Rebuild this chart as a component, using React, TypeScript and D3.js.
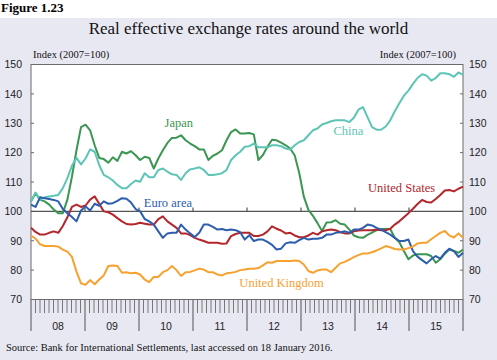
import React from "react";
import * as d3 from "d3";

const years = ["08", "09", "10", "11", "12", "13", "14", "15"];
const yTicks = [70, 80, 90, 100, 110, 120, 130, 140, 150];

const japan = [
  103.4, 106.2, 103.9, 103.4, 102.3, 100.6, 99.4, 99.4, 104, 111.8, 120.8, 128.7,
  129.5, 127.6, 122.5, 118.2, 117.8, 116.6, 118.4, 117.2, 120.3, 119.7, 120.5, 119.1,
  117.5, 118.6, 118.2, 114.6, 118, 120.8, 123.3, 125, 125.1, 125.9, 124.2, 123.1,
  122.2, 121.1, 121.1, 117.5, 118.9, 119.7, 120.8, 124.2, 127, 127.9, 126.5, 126.5,
  126.7, 126.2, 117.5, 119.2, 122, 124.4, 124.2, 123.4, 122.5, 121.4, 119, 113,
  105, 100.5, 98.5, 96, 93.3, 96.2, 96.3, 97, 95.8, 95.5, 93.8, 91.8,
  91.2, 91, 92, 92.8, 93.6, 94, 94, 94, 91, 89.5, 86.5, 83.7,
  85, 85.4, 85.4, 85.4, 84.8, 82.5, 83.7, 85.6, 87, 86.5, 85.9, 87,
];

const china = [
  103.4, 106.4, 103.9, 104.8, 105.1, 105.3, 105.6, 107.9, 111.3, 115.5, 118.2, 116,
  118, 121.1, 120.3, 115.8, 112.4, 111.6, 110.5, 109, 107.9, 107.9, 109.3, 110.5,
  110.1, 113, 111.6, 111.6, 114.1, 114.6, 113.5, 112.6, 112.4, 110.7, 113, 114.3,
  114.6, 115, 114.1, 112.4, 112.4, 112.6, 113, 114.1, 117.5, 119.1, 120.3, 122,
  122.2, 123.1, 121.8, 121.8, 121.8, 122.5, 122.5, 122.2, 121.4, 121.1, 122.5, 123.6,
  124.2, 125.9, 127.6, 128.2, 129.6, 130.1, 130.7, 131, 131, 131, 130.4, 131.9,
  134.6, 135.5, 132.1, 128.7, 127.8, 127.8, 128.9, 131, 134.1, 136.8, 139.4, 141.1,
  143.4, 145.4, 146.7, 146.2, 144.5, 145.4, 147, 147, 146.7, 145.8, 147.3, 146.5,
];

const euroArea = [
  102.3, 101.5, 104.8, 104.5, 104.2, 103.9, 103.4, 100.8, 99.4, 98.1, 96.6, 100.3,
  101.7, 100.3, 102.6, 101.9, 103.4, 102.6, 102.8, 103.6, 104.5, 104.3, 103, 100.8,
  100, 97.4, 96.6, 95.5, 93.2, 91, 92.5, 92.7, 92.7, 95.5, 93.8, 92.5,
  91.3, 92.7, 95.5, 95.5, 94.7, 93.8, 94, 93.6, 93.8, 93.6, 92.9, 90.4,
  91.9, 89.9, 90.4, 90.4, 89.6, 88.6, 87, 87.3, 89.1, 89.5, 89.3, 90.2,
  91, 90.4, 90.7, 90.7, 91, 92.1, 92.1, 92.7, 92.9, 93.2, 92.7, 93.8,
  93.8, 94.4, 95.5, 95.2, 94.4, 93.8, 92.9, 92.1, 91, 89.9, 89.9, 90.4,
  86.5, 84.6, 83.4, 82.3, 83.7, 84.8, 83.9, 85.9, 87.3, 86.5, 84.5, 85.9,
];

const unitedStates = [
  94.4, 93, 92.1, 92.1, 92.7, 93.2, 92.7, 95, 98, 101.5, 102.3, 101.5,
  102, 104, 105.1, 102.6, 100, 99.7, 98.9, 97.7, 96.6, 95.7, 95.5, 95.7,
  96.1, 95.8, 95.5, 95.5, 97.4, 98.3, 96.6, 95.5, 94.4, 92.5, 92.5, 91.9,
  91, 90.4, 89.9, 89.3, 89.3, 89.3, 89, 89.1, 91.6, 92.3, 92.7, 92.7,
  92.7, 91.6, 91.6, 92.1, 93.2, 94.9, 94.1, 93.5, 92.5, 92.7, 91.8, 91.2,
  91.2, 91.8, 92.7, 92.1, 93.2, 93.6, 93.8, 93.6, 92.9, 92.5, 92.5, 93.2,
  93.5, 93.6, 93.6, 93.6, 93.8, 93.6, 93.6, 94.1, 95.5, 96.6, 98, 99.4,
  100.9, 102.5, 103.9, 103.2, 103, 104.2, 105.6, 107.1, 107.3, 106.8, 107.7, 108.4,
];

const unitedKingdom = [
  91.8, 90.7, 88.8, 88.2, 88.2, 88.2, 88, 87, 86.3, 84.5, 79.5, 75.5,
  75, 76.6, 75.2, 76.8, 78.2, 81.4, 81.6, 81.4, 79.1, 79.3, 78.9, 79.1,
  78.5, 76.8, 75.9, 77.7, 77.7, 79.3, 80, 81.4, 80, 78, 79.3, 79.4,
  79.9, 80.5, 80.2, 79.3, 79.3, 78.5, 78.2, 78.9, 79.1, 79.4, 80, 80.2,
  80.5, 80.5, 80.7, 81.6, 82.7, 82.5, 83.1, 83.1, 83.1, 83.1, 83.3, 83.1,
  81.9, 79.7, 79.1, 79.9, 80.2, 80.2, 79.3, 80.8, 82.3, 82.8, 83.6, 84.4,
  85.1, 85.7, 85.7, 86.1, 86.7, 87.4, 88.2, 87.8, 87.2, 87, 87, 87.5,
  88, 89.1, 89.3, 89.3, 90.5, 91.6, 92.7, 93.3, 91.8, 91.1, 92.5, 91,
];

const seriesNames = ["Japan", "China", "United States", "Euro area", "United Kingdom"];
const seriesValues = [japan, china, unitedStates, euroArea, unitedKingdom];
const seriesColors = ["#3A9650", "#5DC5B6", "#B3262C", "#2D5EAD", "#F7A12F"];
// label anchor: [month index, value]
const labelPos: [number, number][] = [
  [32.5, 130.2],
  [69.8, 127.4],
  [81.5, 108.1],
  [30.1, 103],
  [55.1, 75.7],
];

const PL = 31, PR = 463, PT = 64.5, PB = 299.5;
const SERIF = "'Liberation Serif','Times New Roman',Times,serif";
const SANS = "'Liberation Sans',Arial,Helvetica,sans-serif";

export default function App() {
  const n = japan.length;
  const x = d3.scaleLinear().domain([0, n - 1]).range([PL, PR]);
  const xm = d3.scaleLinear().domain([0, years.length * 12]).range([PL, PR]);
  const y = d3.scaleLinear().domain([70, 150]).range([PB, PT]);
  const line = d3
    .line<number>()
    .x((_, i) => x(i))
    .y((v) => y(v))
    .curve(d3.curveLinear);

  const monthTicks = d3.range(0, years.length * 12 + 1);

  return (
    <svg width={497} height={360} style={{ position: "absolute", left: 0, top: 0 }}>
      <rect x={0} y={0} width={497} height={360} fill="#fff" />
      <rect x={0} y={18} width={497} height={342} fill="#E8E8F3" />
      <text x={1} y={12} fontFamily={SERIF} fontWeight="bold" fontSize={13} fill="#000">
        Figure 1.23
      </text>
      <text x={248.5} y={34} textAnchor="middle" fontFamily={SERIF} fontSize={17} fill="#111">
        Real effective exchange rates around the world
      </text>
      <text x={33} y={58} fontFamily={SERIF} fontSize={10.5} fill="#111">
        Index (2007=100)
      </text>
      <text x={456} y={58} textAnchor="end" fontFamily={SERIF} fontSize={10.5} fill="#111">
        Index (2007=100)
      </text>

      <rect x={PL} y={PT} width={PR - PL} height={PB - PT} fill="#fff" stroke="#6b6b6b" strokeWidth={1} />

      {yTicks.map((t) => (
        <g key={t}>
          <line x1={PL} x2={PL + 3} y1={y(t)} y2={y(t)} stroke="#6b6b6b" />
          <line x1={PR - 3} x2={PR} y1={y(t)} y2={y(t)} stroke="#6b6b6b" />
          <text x={22} y={y(t)} dy="0.36em" textAnchor="end" fontFamily={SANS} fontSize={10.5} fill="#222">
            {t}
          </text>
          <text x={469} y={y(t)} dy="0.36em" fontFamily={SANS} fontSize={10.5} fill="#222">
            {t}
          </text>
        </g>
      ))}

      {monthTicks.map((m) => (
        <line
          key={m}
          x1={xm(m)}
          x2={xm(m)}
          y1={PB}
          y2={m % 12 === 0 ? 331 : 313}
          stroke="#6b6b6b"
          strokeWidth={m % 12 === 0 ? 1.2 : 0.9}
        />
      ))}
      {years.map((yr, i) => (
        <g key={yr}>
          <text x={xm(i * 12 + 6)} y={329.5} textAnchor="middle" fontFamily={SANS} fontSize={10.5} fill="#222">
            {yr}
          </text>
          {i > 0 && (
            <line x1={xm(i * 12)} x2={xm(i * 12)} y1={y(100)} y2={y(100) - 4} stroke="#555" strokeWidth={1.2} />
          )}
        </g>
      ))}

      <line x1={PL} x2={PR} y1={y(100)} y2={y(100)} stroke="#555" strokeWidth={1.3} />

      {seriesValues.map((vals, si) => (
        <path
          key={seriesNames[si]}
          d={line(vals) || ""}
          fill="none"
          stroke={seriesColors[si]}
          strokeWidth={2}
          strokeLinejoin="round"
        />
      ))}

      {seriesNames.map((name, si) => (
        <text
          key={name}
          x={x(labelPos[si][0])}
          y={y(labelPos[si][1])}
          dy="0.35em"
          textAnchor="middle"
          fontFamily={SERIF}
          fontSize={12.5}
          fill={seriesColors[si]}
        >
          {name}
        </text>
      ))}

      <text x={6} y={351} fontFamily={SERIF} fontSize={10.5} fill="#111">
        Source: Bank for International Settlements, last accessed on 18 January 2016.
      </text>
    </svg>
  );
}
